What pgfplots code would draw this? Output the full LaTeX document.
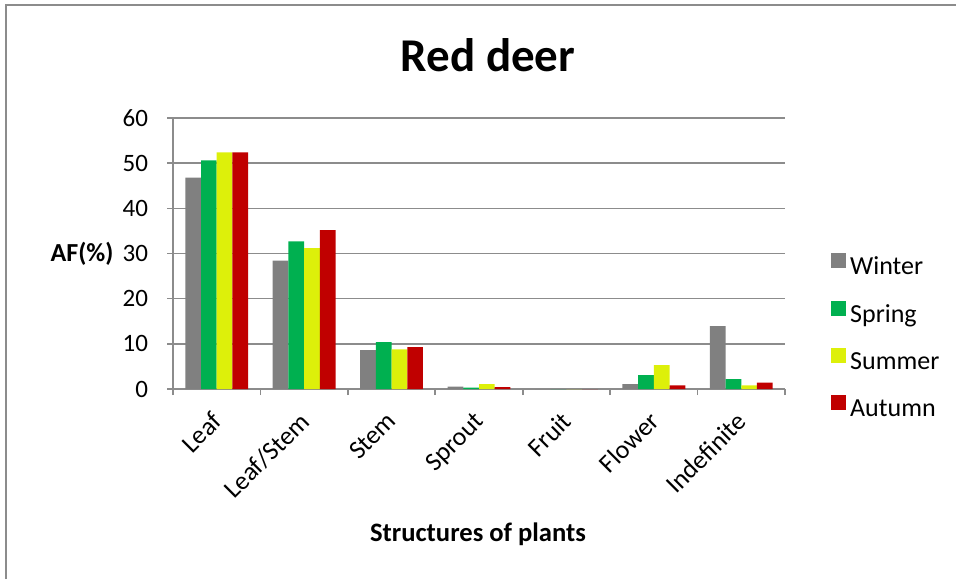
\documentclass[border=0pt]{standalone}
\usepackage{fontspec}
\setmainfont{Carlito}
\usepackage{pgfplots}
\pgfplotsset{compat=1.18}
\definecolor{cWin}{HTML}{808080}
\definecolor{cSpr}{HTML}{00B050}
\definecolor{cSum}{HTML}{DDF00A}
\definecolor{cAut}{HTML}{C00000}
\definecolor{axgray}{HTML}{8C8C8C}
\begin{document}
\begin{tikzpicture}
\useasboundingbox (0,0) rectangle (478pt,289.5pt);
\draw[color=axgray, line width=0.8pt] (3pt,0) -- (3pt,287pt) -- (478pt,287pt);
\node[font=\fontsize{23.5}{27}\selectfont\bfseries, anchor=base] at (244pt,253.5pt) {Red deer};
\node[font=\fontsize{13}{15}\selectfont\bfseries] at (41pt,162.5pt) {AF(\%)};
\node[font=\fontsize{13.3}{15}\selectfont\bfseries, anchor=base] at (239pt,19pt) {Structures of plants};
\begin{axis}[
  at={(86.5pt,95pt)}, anchor=south west,
  scale only axis, width=306pt, height=135.5pt,
  xmin=-0.5, xmax=6.5, ymin=0, ymax=60,
  ytick={0,10,...,60},
  xtick={0,...,6},
  xticklabels={Leaf,Leaf/Stem,Stem,Sprout,Fruit,Flower,Indefinite},
  minor xtick={-0.5,0.5,...,6.5},
  major x tick style={draw=none},
  minor x tick style={axgray, line width=0.8pt},
  y tick style={axgray, line width=0.8pt},
  tick align=outside,
  major tick length=3pt, minor tick length=3pt,
  axis x line*=bottom, axis y line*=left,
  axis line style={axgray, line width=0.8pt, -},
  ymajorgrids, grid style={axgray, line width=0.8pt},
  /pgf/number format/assume math mode=true,
  yticklabel style={font=\fontsize{12.5}{15}\selectfont, xshift=-6pt},
  xticklabel style={font=\fontsize{13}{15}\selectfont, xshift=-3pt, yshift=-7.5pt, inner sep=0pt, rotate=45, anchor=north east},
  ybar=0pt, bar width=7.85pt,
  legend style={at={(1.065,0.52)}, anchor=north west, draw=none, fill=none,
    row sep=9.5pt, font=\fontsize{13}{15}\selectfont},
  legend cell align=left,
  legend image code/.code={\fill[#1] (-2pt,-0.5pt) rectangle (5.5pt,7pt);},
]
\addplot[fill=cWin, draw=none] coordinates {(0,46.8) (1,28.4) (2,8.6) (3,0.5) (4,0) (5,1.1) (6,13.9)};
\addplot[fill=cSpr, draw=none] coordinates {(0,50.6) (1,32.7) (2,10.4) (3,0.3) (4,0) (5,3.1) (6,2.2)};
\addplot[fill=cSum, draw=none] coordinates {(0,52.4) (1,31.2) (2,8.8) (3,1.1) (4,0) (5,5.3) (6,0.8)};
\addplot[fill=cAut, draw=none] coordinates {(0,52.4) (1,35.2) (2,9.3) (3,0.4) (4,0) (5,0.8) (6,1.4)};
\legend{Winter,Spring,Summer,Autumn}
\end{axis}
\end{tikzpicture}
\end{document}
